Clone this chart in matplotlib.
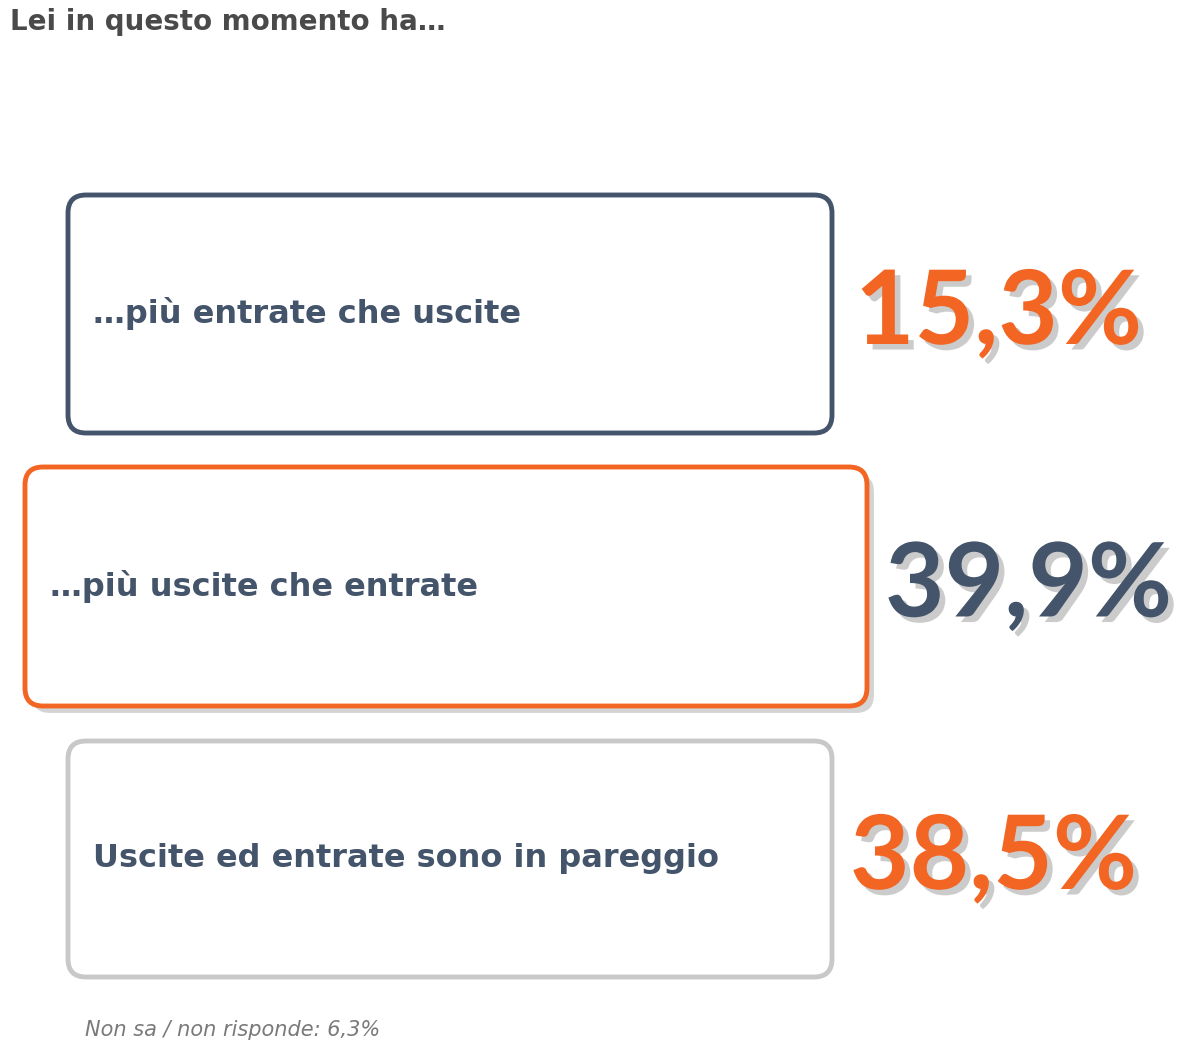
import matplotlib.pyplot as plt
import matplotlib.patheffects as pe
from matplotlib.patches import FancyBboxPatch

plt.rcParams['font.family'] = ['DejaVu Sans']

title = 'Lei in questo momento ha…'
labels = ['…più entrate che uscite', '…più uscite che entrate', 'Uscite ed entrate sono in pareggio']
values = [15.3, 39.9, 38.5]
note = 'Non sa / non risponde: 6,3%'

dark = '#44546a'
orange = '#f26522'
gray = '#c8c8c8'
box_colors = [dark, orange, gray]
value_colors = [orange, dark, orange]

# box layout in pixels: left, top, right, bottom
boxes = [(68, 195, 832, 433), (25, 467, 867, 706), (68, 741, 832, 977)]
label_x = [93, 50, 93]
value_x = [855, 885, 850]

fig = plt.figure(figsize=(12, 10.49), dpi=100)
ax = fig.add_axes([0, 0, 1, 1])
ax.set_xlim(0, 1200)
ax.set_ylim(1049, 0)
ax.axis('off')

ax.text(10, 22, title, fontsize=20, fontweight='bold', color='#4a4a4a', va='center')

shadow = [pe.SimplePatchShadow(offset=(4, -4), shadow_rgbFace='#999999', alpha=0.5), pe.Normal()]

for i, (l, t, r, b) in enumerate(boxes):
    p = FancyBboxPatch((l, t), r - l, b - t, boxstyle='round,pad=0,rounding_size=18',
                       fc='white', ec=box_colors[i], lw=3.5)
    if i == 1:
        p.set_path_effects([pe.SimplePatchShadow(offset=(5, -5), shadow_rgbFace='#aaaaaa', alpha=0.5),
                            pe.Normal()])
    ax.add_patch(p)
    cy = (t + b) / 2
    ax.text(label_x[i], cy, labels[i], fontsize=23, fontweight='bold', color=dark, va='center')
    ax.text(value_x[i], cy, f'{values[i]:.1f}%'.replace('.', ','), fontsize=74,
            fontweight='bold', color=value_colors[i], va='center', family='Lato',
            path_effects=shadow)

ax.text(85, 1030, note, fontsize=15, style='italic', color='#7a7a7a', va='center')

fig.savefig('out.png', dpi=100)
